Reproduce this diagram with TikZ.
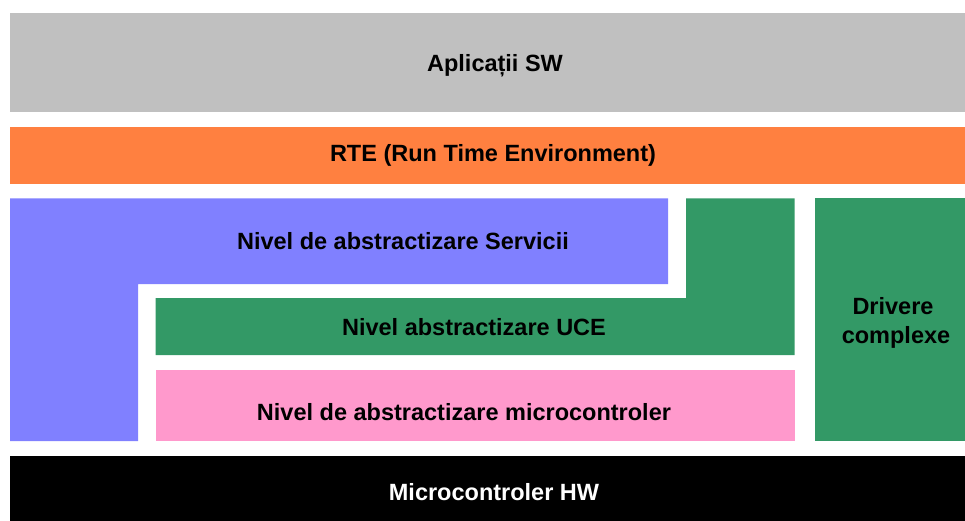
\documentclass[tikz,border=0pt]{standalone}
\usepackage{fontspec}
\setmainfont{Liberation Sans}
\usepackage{tikz}
\usetikzlibrary{positioning}
\usetikzlibrary{calc}

\tikzset{layertxt/.style={font=\fontsize{23.5}{27}\selectfont\bfseries, inner sep=0pt, anchor=base}}

\begin{document}
\begin{tikzpicture}[x=1pt,y=1pt,yscale=-1,xscale=1]
\useasboundingbox (0,0) rectangle (965,521);

%Shape: Rectangle [Aplicatii SW]
\fill [fill={rgb, 255:red, 192; green, 192; blue, 192 }] (10,13) rectangle (965,112.5) ;
%Shape: Rectangle [RTE]
\fill [fill={rgb, 255:red, 255; green, 128; blue, 64 }] (10,127) rectangle (965,184) ;
%Shape: L-Shape [Servicii]
\fill [fill={rgb, 255:red, 128; green, 128; blue, 255 }] (10,198.5) -- (668,198.5) -- (668,284) -- (138,284) -- (138,441) -- (10,441) -- cycle ;
%Shape: L-Shape [UCE]
\fill [fill={rgb, 255:red, 51; green, 153; blue, 102 }] (686,198.5) -- (794.5,198.5) -- (794.5,355) -- (155.5,355) -- (155.5,298) -- (686,298) -- cycle ;
%Shape: Rectangle [microcontroler]
\fill [fill={rgb, 255:red, 255; green, 153; blue, 204 }] (155.5,370) rectangle (794.5,441) ;
%Shape: Rectangle [Drivere complexe]
\fill [fill={rgb, 255:red, 51; green, 153; blue, 102 }] (814.5,198.5) rectangle (965,441) ;
%Shape: Rectangle [HW]
\fill [fill={rgb, 255:red, 0; green, 0; blue, 0 }] (10,455.5) rectangle (965,521) ;

% Text Node
\node [layertxt] (apl) at (495,71.5) {Aplicații SW};
% Text Node
\node [layertxt] (rte) at (493,161.5) {RTE (Run Time Environment)};
% Text Node
\node [layertxt] (serv) at (403,249.5) {Nivel de abstractizare Servicii};
% Text Node
\node [layertxt] (uce) at (474,335.7) {Nivel abstractizare UCE};
% Text Node
\node [layertxt] (mcal) at (464,420) {Nivel de abstractizare microcontroler};
% Text Node
\node [layertxt] (cdd1) at (893,314) {Drivere};
\node [layertxt] (cdd2) at (896,343.3) {complexe};
% Text Node
\node [layertxt, text=white] (hw) at (494,500.7) {Microcontroler HW};

\end{tikzpicture}
\end{document}
